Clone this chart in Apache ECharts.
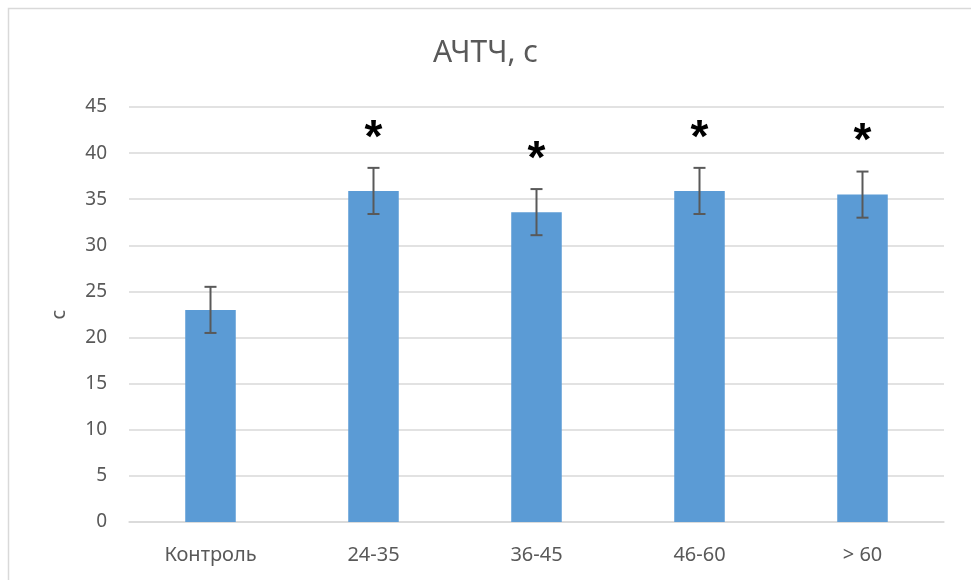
<!DOCTYPE html>
<html>
<head>
<meta charset="utf-8">
<script src="https://cdn.jsdelivr.net/npm/echarts@6/dist/echarts.min.js"></script>
<style>html,body{margin:0;padding:0;background:#fff}#c{width:971px;height:580px}</style>
</head>
<body>
<div id="c"></div>
<script>
const categories = ['Контроль', '24-35', '36-45', '46-60', '> 60'];
const means = [23, 35.9, 33.6, 35.9, 35.5];
const errors = [2.5, 2.5, 2.5, 2.5, 2.5];
const significant = [false, true, true, true, true];
const yTicks = { min: 0, max: 45, interval: 5 };

const chart = echarts.init(document.getElementById('c'), null, { renderer: 'canvas' });
const font = 'Noto Sans';
const errData = categories.map((c, i) => [i, means[i], errors[i], significant[i] ? 1 : 0]);

chart.setOption({
  animation: false,
  backgroundColor: '#fff',
  title: {
    text: 'АЧТЧ, с', left: 'center', top: 33,
    textStyle: { fontFamily: font, fontSize: 30, fontWeight: 'normal', color: '#595959' }
  },
  graphic: [{
    type: 'rect', silent: true, z: -1,
    shape: { x: 8.5, y: 8.5, width: 1200, height: 1200 },
    style: { fill: 'none', stroke: '#d9d9d9', lineWidth: 1.5 }
  }],
  grid: { left: 129, right: 27, top: 107, bottom: 58 },
  xAxis: {
    type: 'category', data: categories,
    axisTick: { show: false },
    axisLine: { lineStyle: { color: '#d9d9d9', width: 1.5 } },
    axisLabel: { fontFamily: font, fontSize: 20, color: '#595959', margin: 23 }
  },
  yAxis: {
    type: 'value', min: yTicks.min, max: yTicks.max, interval: yTicks.interval,
    name: 'с', nameLocation: 'middle', nameGap: 60, nameRotate: 90,
    nameTextStyle: { fontFamily: font, fontSize: 20, color: '#595959' },
    axisLine: { show: false }, axisTick: { show: false },
    axisLabel: { fontFamily: font, fontSize: 19, color: '#595959', margin: 22 },
    splitLine: { lineStyle: { color: '#d9d9d9', width: 1.5 } }
  },
  series: [{
    type: 'bar', data: means, barWidth: '31%',
    itemStyle: { color: '#5b9bd5' }
  }, {
    type: 'custom', data: errData, z: 10,
    renderItem: function (params, api) {
      const i = api.value(0), v = api.value(1), e = api.value(2), s = api.value(3);
      const hi = api.coord([i, v + e]);
      const lo = api.coord([i, v - e]);
      const cap = 6;
      const st = { stroke: '#595959', lineWidth: 2 };
      const children = [
        { type: 'line', shape: { x1: hi[0], y1: hi[1], x2: lo[0], y2: lo[1] }, style: st },
        { type: 'line', shape: { x1: hi[0] - cap, y1: hi[1], x2: hi[0] + cap, y2: hi[1] }, style: st },
        { type: 'line', shape: { x1: lo[0] - cap, y1: lo[1], x2: lo[0] + cap, y2: lo[1] }, style: st }
      ];
      if (s) {
        children.push({
          type: 'text',
          style: {
            text: '*', x: hi[0], y: hi[1] - 29,
            fontFamily: 'Liberation Sans', fontSize: 46, fontWeight: 'bold',
            fill: '#000', align: 'center', verticalAlign: 'middle'
          }
        });
      }
      return { type: 'group', children: children };
    }
  }]
});
</script>
</body>
</html>
